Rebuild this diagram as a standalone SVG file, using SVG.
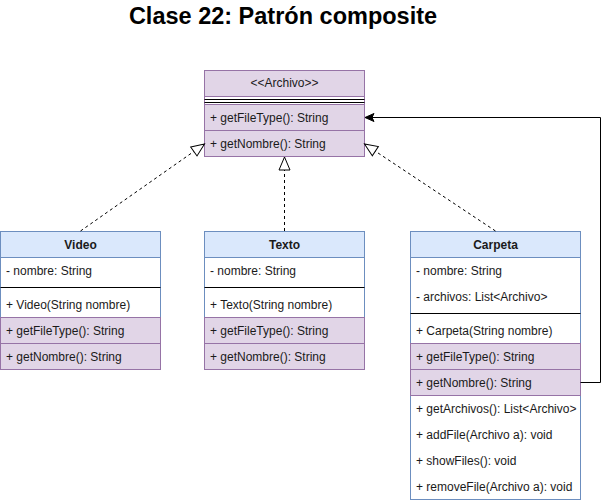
<svg xmlns="http://www.w3.org/2000/svg" width="610" height="503" viewBox="0 0 610 503">
<defs>
<style>
text{font-family:"Liberation Sans",Arial,Helvetica,sans-serif;font-size:12px;fill:#1a1a1a}
.title{font-size:23.5px;font-weight:bold;fill:#000}
.hdr{font-weight:bold;text-anchor:middle}
.ctr{text-anchor:middle}
.blue{fill:#dae8fc;stroke:#6c8ebf;stroke-width:1}
.box{fill:#ffffff;stroke:#6c8ebf;stroke-width:1}
.purp{fill:#e1d5e7;stroke:#9673a6;stroke-width:1}
.sep{stroke:#000;stroke-width:1}
.dash{fill:none;stroke:#000;stroke-width:1;stroke-dasharray:3 3}
.solid{fill:none;stroke:#000;stroke-width:1}
</style>
<marker id="tri" viewBox="-1 -7 16 14" markerWidth="16" markerHeight="14" refX="13" refY="0" orient="auto" markerUnits="userSpaceOnUse">
<path d="M0,-5.5 L13,0 L0,5.5 Z" fill="#fff" stroke="#000" stroke-width="1"/>
</marker>
<marker id="arr" viewBox="-1 -5 11 10" markerWidth="11" markerHeight="10" refX="9" refY="0" orient="auto" markerUnits="userSpaceOnUse">
<path d="M0,-4 L9,0 L0,4 L2,0 Z" fill="#000" stroke="#000" stroke-width="1"/>
</marker>
</defs>
<rect width="610" height="503" fill="#fff"/>
<text class="title" x="283" y="24" text-anchor="middle">Clase 22: Patrón composite</text>

<g id="archivo">
<rect class="purp" x="204.5" y="70.5" width="160" height="86"/>
<rect x="205" y="96.5" width="159" height="7.5" fill="#fff"/>
<line class="purp" x1="204.5" y1="96.5" x2="364.5" y2="96.5"/>
<line class="sep" x1="204.5" y1="99.5" x2="364.5" y2="99.5"/>
<line class="sep" x1="204.5" y1="102.5" x2="364.5" y2="102.5"/>
<rect class="purp" x="204.5" y="104.5" width="160" height="26"/>
<rect class="purp" x="204.5" y="130.5" width="160" height="26"/>
<text class="ctr" x="284.5" y="87">&lt;&lt;Archivo&gt;&gt;</text>
<text x="210" y="122">+ getFileType(): String</text>
<text x="210" y="148">+ getNombre(): String</text>
</g>

<g id="video">
<rect class="box" x="0.5" y="231.5" width="160" height="138"/>
<rect class="blue" x="0.5" y="231.5" width="160" height="26"/>
<line class="sep" x1="0.5" y1="287.5" x2="160.5" y2="287.5"/>
<rect class="purp" x="0.5" y="317.5" width="160" height="26"/>
<rect class="purp" x="0.5" y="343.5" width="160" height="26"/>
<text class="hdr" x="80.5" y="249">Video</text>
<text x="6" y="275">- nombre: String</text>
<text x="6" y="309">+ Video(String nombre)</text>
<text x="6" y="335">+ getFileType(): String</text>
<text x="6" y="361">+ getNombre(): String</text>
</g>

<g id="texto">
<rect class="box" x="204.5" y="231.5" width="160" height="138"/>
<rect class="blue" x="204.5" y="231.5" width="160" height="26"/>
<line class="sep" x1="204.5" y1="287.5" x2="364.5" y2="287.5"/>
<rect class="purp" x="204.5" y="317.5" width="160" height="26"/>
<rect class="purp" x="204.5" y="343.5" width="160" height="26"/>
<text class="hdr" x="284.5" y="249">Texto</text>
<text x="210" y="275">- nombre: String</text>
<text x="210" y="309">+ Texto(String nombre)</text>
<text x="210" y="335">+ getFileType(): String</text>
<text x="210" y="361">+ getNombre(): String</text>
</g>

<g id="carpeta">
<rect class="box" x="410.5" y="231.5" width="170" height="268"/>
<rect class="blue" x="410.5" y="231.5" width="170" height="26"/>
<line class="sep" x1="410.5" y1="313.5" x2="580.5" y2="313.5"/>
<rect class="purp" x="410.5" y="343.5" width="170" height="26"/>
<rect class="purp" x="410.5" y="369.5" width="170" height="26"/>
<text class="hdr" x="495.5" y="249">Carpeta</text>
<text x="416" y="275">- nombre: String</text>
<text x="416" y="301">- archivos: List&lt;Archivo&gt;</text>
<text x="416" y="335">+ Carpeta(String nombre)</text>
<text x="416" y="361">+ getFileType(): String</text>
<text x="416" y="387">+ getNombre(): String</text>
<text x="416" y="413">+ getArchivos(): List&lt;Archivo&gt;</text>
<text x="416" y="439">+ addFile(Archivo a): void</text>
<text x="416" y="465">+ showFiles(): void</text>
<text x="416" y="491">+ removeFile(Archivo a): void</text>
</g>

<g id="connectors">
<line class="dash" x1="80.5" y1="231" x2="204.5" y2="144" marker-end="url(#tri)"/>
<line class="dash" x1="284.5" y1="231" x2="284.5" y2="157" marker-end="url(#tri)"/>
<line class="dash" x1="495.5" y1="231" x2="364.5" y2="144" marker-end="url(#tri)"/>
<polyline class="solid" points="580.5,382.5 600.5,382.5 600.5,117.5 365,117.5" marker-end="url(#arr)"/>
</g>
</svg>
